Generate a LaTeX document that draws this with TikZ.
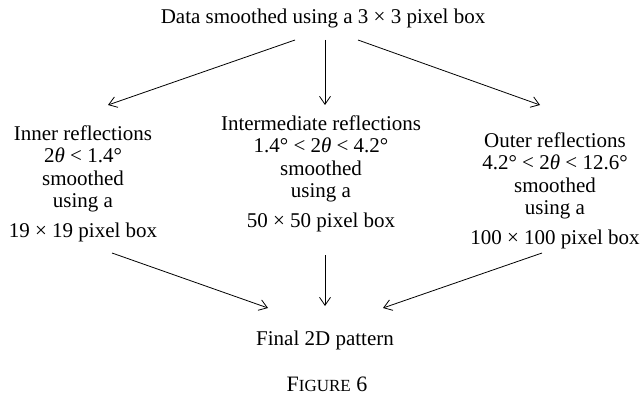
\documentclass[tikz,border=0pt]{standalone}
\usepackage{fontspec}
\setmainfont{Liberation Serif}
\usetikzlibrary{arrows.meta,calc}
\begin{document}
\begin{tikzpicture}[x=1pt,y=-1pt,
  txt/.style={font=\fontsize{21}{22.5}\selectfont, inner sep=0pt, outer sep=0pt, anchor=base},
  figcaption/.style={font=\fontsize{22}{24}\selectfont, inner sep=0pt, outer sep=0pt, anchor=base},
  arr/.style={-{Straight Barb[length=8pt,width=11pt]}, line width=0.8pt}]
\useasboundingbox (0,0) rectangle (643,396);

\node[txt] (top) at (323,24) {Data smoothed using a 3 × 3 pixel box};

\node[txt] (inner) at (83,140) {\begin{tabular}[t]{@{}c@{}}Inner reflections\\
  2\textit{θ} < 1.4°\\ smoothed\\ using a\\[7pt] 19 × 19 pixel box\end{tabular}};

\node[txt] (mid) at (321,130) {\begin{tabular}[t]{@{}c@{}}Intermediate reflections\\
  1.4° < 2\textit{θ} < 4.2°\\ smoothed\\ using a\\[7pt] 50 × 50 pixel box\end{tabular}};

\node[txt] (outer) at (555,147) {\begin{tabular}[t]{@{}c@{}}Outer reflections\\
  4.2° < 2\textit{θ} < 12.6°\\ smoothed\\ using a\\[7pt] 100 × 100 pixel box\end{tabular}};

\node[txt] (final) at (325,345) {Final 2D pattern};

\node[figcaption] (fig) at (327,391) {F{\fontsize{17}{20}\selectfont IGURE} 6};

% arrows from the top
\draw[arr] ($(top.base)+(-28,16)$) -- ($(inner.base)+(25,-35)$);
\draw[arr] ($(top.base)+(2,16)$) -- ($(mid.base)+(4,-25)$);
\draw[arr] ($(top.base)+(35,16)$) -- ($(outer.base)+(-15,-42)$);

% arrows to the final pattern
\draw[arr] ($(inner.base)+(29,113)$) -- ($(final.base)+(-57,-37)$);
\draw[arr] ($(mid.base)+(4,125)$) -- ($(final.base)+(0,-39)$);
\draw[arr] ($(outer.base)+(-13,106)$) -- ($(final.base)+(58,-37)$);
\end{tikzpicture}
\end{document}
